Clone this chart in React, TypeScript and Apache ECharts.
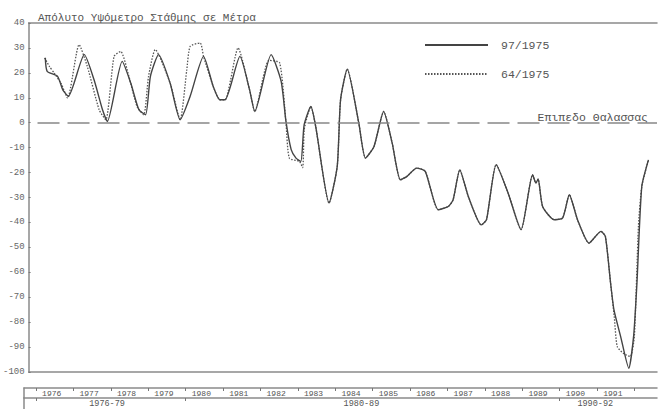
import React, { useEffect, useRef } from "react";
import * as echarts from "echarts";

// X range of the plotting frame (decimal years)
const X_MIN = 1975.68;
const X_MAX = 1992.6;

// Solid series: 97/1975
const solidYears = [
  1976.13, 1976.18, 1976.46, 1976.6, 1976.75, 1977.18, 1977.44, 1977.67, 1977.8,
  1978.2, 1978.43, 1978.65, 1978.83, 1978.96, 1979.18, 1979.49, 1979.76, 1980.03,
  1980.39, 1980.65, 1980.83, 1980.97, 1981.37, 1981.63, 1981.77, 1982.21, 1982.48,
  1982.61, 1982.75, 1982.88, 1983.01, 1983.1, 1983.28, 1983.41, 1983.77, 1983.99,
  1984.08, 1984.26, 1984.57, 1984.75, 1984.98, 1985.24, 1985.47, 1985.69, 1985.87,
  1986.13, 1986.36, 1986.71, 1986.98, 1987.11, 1987.29, 1987.52, 1987.87, 1988.01,
  1988.27, 1988.59, 1988.94, 1989.25, 1989.34, 1989.4, 1989.52, 1989.83, 1990.06,
  1990.24, 1990.46, 1990.77, 1991.09, 1991.21, 1991.35, 1991.44, 1991.62, 1991.84,
  1991.97, 1992.06, 1992.19, 1992.37,
];
const solidLevels = [
  26, 20.6, 18.6, 13.2, 10.6, 27.3, 17.3, 5.2, 0.5,
  24.6, 15.9, 5.2, 3.2, 18.6, 27.3, 15.9, 1.2, 10.6,
  26.6, 14.6, 9.2, 9.2, 26.6, 13.2, 4.5, 27.3, 16.6,
  0.5, -10.8, -14.2, -15.5, -0.8, 6.5, -1.5, -32.2, -17.5,
  9.2, 21.5, -0.1, -14.2, -9.5, 4.5, -8.2, -22.9, -21.5,
  -18.2, -19.5, -34.9, -33.6, -30.9, -18.9, -29.6, -41, -38.9,
  -16.8, -28.2, -42.9, -20.9, -24.2, -22.6, -33.6, -38.9, -38.2,
  -28.9, -38.9, -48.3, -43.6, -45.6, -64.3, -75, -85.7, -98.5,
  -85.7, -64.3, -25.6, -14.9,
];

// Dotted series: 64/1975
const dottedYears = [
  1976.11, 1976.24, 1976.37, 1976.55, 1976.73, 1977.04, 1977.26, 1977.58, 1977.76,
  1977.98, 1978.16, 1978.38, 1978.6, 1978.78, 1978.91, 1979.09, 1979.49, 1979.76,
  1979.94, 1980.03, 1980.3, 1980.39, 1980.65, 1980.83, 1980.97, 1981.32, 1981.63,
  1981.77, 1982.15, 1982.44, 1982.61, 1982.7, 1982.97, 1983.06, 1983.1, 1983.19,
  1983.28, 1983.41, 1983.77, 1983.99, 1984.08, 1984.26, 1984.57, 1984.75, 1984.98,
  1985.24, 1985.47, 1985.69, 1985.87, 1986.13, 1986.36, 1986.71, 1986.98, 1987.11,
  1987.29, 1987.52, 1987.87, 1988.01, 1988.27, 1988.59, 1988.94, 1989.25, 1989.34,
  1989.4, 1989.52, 1989.83, 1990.06, 1990.24, 1990.46, 1990.77, 1991.09, 1991.21,
  1991.35, 1991.45, 1991.53, 1991.71, 1991.88, 1991.99, 1992.1, 1992.19, 1992.37,
];
const dottedLevels = [
  26, 22.6, 19.9, 15.9, 9.9, 31.3, 22.6, 5.2, 1.2,
  26.6, 28.6, 18.6, 6.5, 3.2, 18.6, 29.3, 15.9, 1.2,
  21.3, 30.6, 32, 26.6, 14.6, 9.2, 9.2, 30, 13.2,
  4.5, 25, 24, 0, -14.2, -15.5, -18, -3, 3,
  6.5, -1.5, -32.2, -17.5, 9.2, 21.5, -0.1, -14.2, -9.5,
  4.5, -8.2, -22.9, -21.5, -18.2, -19.5, -34.9, -33.6, -30.9,
  -18.9, -29.6, -41, -38.9, -16.8, -28.2, -42.9, -20.9, -24.2,
  -22.6, -33.6, -38.9, -38.2, -28.9, -38.9, -48.3, -43.6, -45.6,
  -64.3, -78, -89.8, -92.7, -93.8, -85.7, -41.6, -25.6, -14.9,
];

// Bottom band: year row and period row
const yearTicks = [1976, 1977, 1978, 1979, 1980, 1981, 1982, 1983, 1984, 1985, 1986, 1987, 1988, 1989, 1990, 1991, 1992];
const yearLabels = ["1976", "1977", "1978", "1979", "1980", "1981", "1982", "1983", "1984", "1985", "1986", "1987", "1988", "1989", "1990", "1991"];
const yearLabelPos = [1976.42, 1977.42, 1978.42, 1979.42, 1980.42, 1981.42, 1982.42, 1983.42, 1984.42, 1985.42, 1986.42, 1987.42, 1988.42, 1989.42, 1990.42, 1991.42];
const periodTicks = [1976, 1980, 1990];
const periodLabels = ["1976-79", "1980-89", "1990-92"];
const periodLabelPos = [1977.9, 1984.7, 1990.95];

const seriesNames = ["97/1975", "64/1975"];
const titleText = "Απόλυτο Υψόμετρο Στάθμης σε Μέτρα";
const seaLevelText = "Επιπεδο Θαλασσας";

const MONO = "'Liberation Mono', 'DejaVu Sans Mono', monospace";
const AXIS_COLOR = "#8a8a8a";
const TEXT_COLOR = "#555";

export default function App() {
  const ref = useRef<HTMLDivElement>(null);
  useEffect(() => {
    if (!ref.current) return;
    const chart = echarts.init(ref.current, undefined, { renderer: "svg" });
    const zip = (xs: number[], ys: number[]) => xs.map((x, i) => [x, ys[i]]);
    const hiddenX = (gridIndex: number, position: string) => ({
      gridIndex,
      type: "value",
      min: X_MIN,
      max: X_MAX,
      position,
      axisLine: { show: true, onZero: false, lineStyle: { color: AXIS_COLOR, width: 1.5 } },
      axisTick: { show: false },
      axisLabel: { show: false },
      splitLine: { show: false },
    });
    const option: any = {
      animation: false,
      textStyle: { fontFamily: MONO },
      title: {
        text: titleText,
        left: 33,
        top: 7,
        textStyle: { fontFamily: MONO, fontSize: 11, fontWeight: "normal", color: TEXT_COLOR },
      },
      legend: {
        data: seriesNames,
        orient: "vertical",
        left: 419,
        top: 34,
        itemWidth: 63,
        itemHeight: 12,
        itemGap: 17,
        itemStyle: { opacity: 0 },
        textStyle: { fontFamily: MONO, fontSize: 11.5, color: TEXT_COLOR, padding: [0, 0, 0, 8] },
      },
      grid: [
        { left: 24, right: 1, top: 23, height: 349 },
        { left: 24, right: 1, top: 388, height: 10 },
        { left: 24, right: 1, top: 398, height: 14 },
      ],
      xAxis: [
        hiddenX(0, "bottom"),
        hiddenX(0, "top"),
        {
          gridIndex: 1,
          type: "value",
          min: X_MIN,
          max: X_MAX,
          position: "top",
          axisLine: { show: true, onZero: false, lineStyle: { color: AXIS_COLOR, width: 1.5 } },
          axisTick: { show: true, inside: true, length: 3, customValues: yearTicks, lineStyle: { color: "#777" } },
          axisLabel: {
            show: true,
            inside: true,
            margin: 1,
            customValues: yearLabelPos,
            formatter: (v: number) => {
              const i = yearLabelPos.indexOf(v);
              return i >= 0 ? yearLabels[i] : "";
            },
            fontFamily: MONO,
            fontSize: 8,
            color: TEXT_COLOR,
          },
          splitLine: { show: false },
        },
        {
          gridIndex: 2,
          type: "value",
          min: X_MIN,
          max: X_MAX,
          position: "top",
          axisLine: { show: true, onZero: false, lineStyle: { color: AXIS_COLOR, width: 1.5 } },
          axisTick: { show: true, inside: true, length: 3, customValues: periodTicks, lineStyle: { color: "#777" } },
          axisLabel: {
            show: true,
            inside: true,
            margin: 1,
            customValues: periodLabelPos,
            formatter: (v: number) => {
              const i = periodLabelPos.indexOf(v);
              return i >= 0 ? periodLabels[i] : "";
            },
            fontFamily: MONO,
            fontSize: 8.5,
            color: TEXT_COLOR,
          },
          splitLine: { show: false },
        },
      ],
      yAxis: [
        {
          gridIndex: 0,
          type: "value",
          min: -100,
          max: 40,
          interval: 10,
          axisLine: { show: true, onZero: false, lineStyle: { color: AXIS_COLOR, width: 1.5 } },
          axisTick: { show: true, inside: true, length: 2, lineStyle: { color: "#777" } },
          axisLabel: { fontFamily: MONO, fontSize: 9, color: "#666", margin: 4 },
          splitLine: { show: false },
        },
        {
          gridIndex: 1,
          type: "value",
          axisLine: { show: true, onZero: false, lineStyle: { color: AXIS_COLOR, width: 1.5 } },
          axisTick: { show: false },
          axisLabel: { show: false },
          splitLine: { show: false },
        },
        {
          gridIndex: 2,
          type: "value",
          axisLine: { show: true, onZero: false, lineStyle: { color: AXIS_COLOR, width: 1.5 } },
          axisTick: { show: false },
          axisLabel: { show: false },
          splitLine: { show: false },
        },
      ],
      series: [
        {
          name: seriesNames[0],
          type: "line",
          xAxisIndex: 0,
          yAxisIndex: 0,
          data: zip(solidYears, solidLevels),
          symbol: "none",
          showSymbol: false,
          smooth: 0.2,
          lineStyle: { color: "#444", width: 1.4 },
          itemStyle: { color: "#444" },
          z: 3,
          markLine: {
            silent: true,
            symbol: ["none", "none"],
            label: { show: false },
            lineStyle: { type: [22, 8], color: "#888", width: 1.5 },
            data: [[{ coord: [1975.92, 0] }, { coord: [X_MAX, 0] }]],
          },
        },
        {
          name: seriesNames[1],
          type: "line",
          xAxisIndex: 0,
          yAxisIndex: 0,
          data: zip(dottedYears, dottedLevels),
          symbol: "none",
          showSymbol: false,
          smooth: 0.2,
          lineStyle: { color: "#555", width: 1.3, type: [1.5, 1.5] },
          itemStyle: { color: "#555" },
          z: 2,
        },
      ],
      graphic: [
        {
          type: "text",
          right: 10,
          top: 111,
          style: { text: seaLevelText, font: `11.5px ${MONO}`, fill: TEXT_COLOR },
        },
      ],
    };
    chart.setOption(option);
    return () => chart.dispose();
  }, []);
  return <div ref={ref} style={{ position: "fixed", left: 0, top: 0, width: 658, height: 409, background: "#fff" }} />;
}
